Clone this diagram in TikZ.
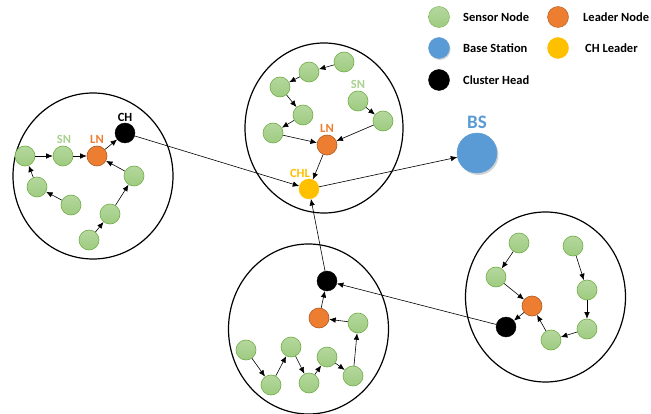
\documentclass[tikz,border=0pt]{standalone}
\usepackage{fontspec}
\setmainfont{Carlito}
\usetikzlibrary{arrows.meta,shadows}
\definecolor{sng}{RGB}{169,209,142}
\definecolor{snt}{RGB}{181,216,158}
\definecolor{snb}{RGB}{158,203,128}
\definecolor{snd}{RGB}{112,173,71}
\definecolor{lno}{RGB}{237,125,49}
\definecolor{lnd}{RGB}{174,90,33}
\definecolor{bsb}{RGB}{91,155,213}
\definecolor{chy}{RGB}{255,192,0}
\tikzset{
  sn/.style={circle,minimum size=20pt,inner sep=0pt,top color=snt,bottom color=snb,draw=snd,line width=0.6pt},
  ln/.style={circle,minimum size=20pt,inner sep=0pt,fill=lno,draw=lnd,line width=0.6pt},
  ch/.style={circle,minimum size=20pt,inner sep=0pt,fill=black,draw=black},
  chl/.style={circle,minimum size=20pt,inner sep=0pt,fill=chy,draw=chy},
  bs/.style={circle,minimum size=40pt,inner sep=0pt,fill=bsb,draw=bsb,drop shadow={shadow xshift=1.5pt,shadow yshift=-2pt,opacity=0.35}},
  lg/.style={circle,minimum size=21pt,inner sep=0pt},
  cl/.style={line width=1.2pt},
  ar/.style={-{Latex[length=6.5pt,width=5.5pt]},line width=0.6pt},
  lk/.style={-{Latex[length=6.5pt,width=5.5pt]},line width=0.6pt},
  lab/.style={font=\fontsize{12.5}{14}\selectfont\bfseries,inner sep=0pt},
  lgt/.style={font=\fontsize{12.5}{14}\selectfont\bfseries,inner sep=0pt,anchor=west}
}
\begin{document}
\begin{tikzpicture}[x=1pt,y=-1pt]
\useasboundingbox (0,0) rectangle (651,414);
% cluster outlines
\draw[cl] (93,176) ellipse [x radius=80,y radius=83];
\draw[cl] (324,128) ellipse [x radius=79,y radius=85];
\draw[cl] (308.5,329) ellipse [x radius=80,y radius=85];
\draw[cl] (545.5,297) ellipse [x radius=80,y radius=85];
% cluster 1
\node[sn] (a1) at (25,156) {};
\node[sn] (a2) at (63,156) {};
\node[ln] (aL) at (97,156) {};
\node[ch] (aC) at (125,133) {};
\node[sn] (a3) at (37,187) {};
\node[sn] (a4) at (71,205) {};
\node[sn] (a5) at (134,176) {};
\node[sn] (a6) at (110,214) {};
\node[sn] (a7) at (89,240) {};
\node[lab,text=sng] (tSN1) at (64,139) {SN};
\node[lab,text=lno] (tLN1) at (97,139) {LN};
\node[lab] (tCH1) at (125,117) {CH};
\draw[ar] (a1) -- (a2);
\draw[ar] (a2) -- (aL);
\draw[ar] (aL) -- (aC);
\draw[ar] (a3) -- (a1);
\draw[ar] (a4) -- (a3);
\draw[ar] (a5) -- (aL);
\draw[ar] (a6) -- (a5);
\draw[ar] (a7) -- (a6);
% cluster 2
\node[sn] (b1) at (344,62) {};
\node[sn] (b2) at (309,72) {};
\node[sn] (b3) at (280,87) {};
\node[sn] (b4) at (303,115) {};
\node[sn] (b5) at (273,133) {};
\node[sn] (b6) at (358,101) {};
\node[sn] (b7) at (383,121) {};
\node[ln] (bL) at (327,145) {};
\node[chl] (bH) at (309,189) {};
\node[lab,text=sng] (tSN2) at (358,84) {SN};
\node[lab,text=lno] (tLN2) at (327,128) {LN};
\node[lab,text=chy] (tCHL) at (300,173) {CHL};
\draw[ar] (b1) -- (b2);
\draw[ar] (b2) -- (b3);
\draw[ar] (b3) -- (b4);
\draw[ar] (b4) -- (b5);
\draw[ar] (b5) -- (bL);
\draw[ar] (b6) -- (b7);
\draw[ar] (b7) -- (bL);
\draw[ar] (bL) -- (bH);
% base station
\node[bs] (BS) at (477,153) {};
\node[lab,text=bsb,font=\fontsize{19}{21}\selectfont\bfseries] (tBS) at (477,122) {BS};
% cluster 3
\node[ch] (cC) at (327,281) {};
\node[ln] (cL) at (319,318) {};
\node[sn] (c1) at (358,323) {};
\node[sn] (c2) at (246,350) {};
\node[sn] (c3) at (271,385) {};
\node[sn] (c4) at (291,347) {};
\node[sn] (c5) at (309,383) {};
\node[sn] (c6) at (327,357) {};
\node[sn] (c7) at (353,376) {};
\draw[ar] (cL) -- (cC);
\draw[ar] (c1) -- (cL);
\draw[ar] (c2) -- (c3);
\draw[ar] (c3) -- (c4);
\draw[ar] (c4) -- (c5);
\draw[ar] (c5) -- (c6);
\draw[ar] (c6) -- (c7);
\draw[ar] (c7) -- (c1);
% cluster 4
\node[sn] (d1) at (519,243) {};
\node[sn] (d2) at (496,277) {};
\node[ln] (dL) at (532,306) {};
\node[ch] (dC) at (506,327) {};
\node[sn] (d3) at (573,246) {};
\node[sn] (d4) at (587,290) {};
\node[sn] (d5) at (587,329) {};
\node[sn] (d6) at (551,340) {};
\draw[ar] (d1) -- (d2);
\draw[ar] (d2) -- (dL);
\draw[ar] (dL) -- (dC);
\draw[ar] (d3) -- (d4);
\draw[ar] (d4) -- (d5);
\draw[ar] (d5) -- (d6);
\draw[ar] (d6) -- (dL);
% long links
\draw[lk] (aC) -- (bH);
\draw[lk] (cC) -- (bH);
\draw[lk] (dC) -- (cC);
\draw[lk] (bH) -- (BS);
% legend
\node[lg,top color=snt,bottom color=snb,draw=snd] (g1) at (439,17) {};
\node[lgt] (g1t) at (463,17) {Sensor Node};
\node[lg,fill=lno,draw=lnd] (g2) at (558,17) {};
\node[lgt] (g2t) at (583,17) {Leader Node};
\node[lg,fill=bsb,draw=bsb,drop shadow={shadow xshift=1pt,shadow yshift=-1.5pt,opacity=0.35}] (g3) at (439,48) {};
\node[lgt] (g3t) at (463,48) {Base Station};
\node[lg,fill=chy,draw=chy] (g4) at (558,48) {};
\node[lgt] (g4t) at (585,48) {CH Leader};
\node[lg,fill=black,draw=black] (g5) at (439,80) {};
\node[lgt] (g5t) at (463,80) {Cluster Head};
\end{tikzpicture}
\end{document}
